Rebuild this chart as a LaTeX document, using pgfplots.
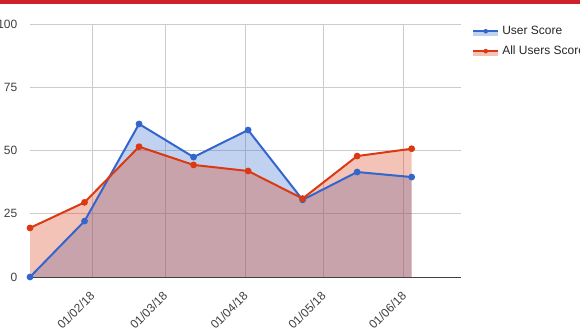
\documentclass[border=0pt]{standalone}
\usepackage{fontspec}
\setmainfont{Liberation Sans}
\usepackage{pgfplots}
\pgfplotsset{compat=1.18}
\definecolor{gblue}{HTML}{3366CC}
\definecolor{gred}{HTML}{DC3912}
\definecolor{topred}{HTML}{D0202A}
\definecolor{gridc}{HTML}{CCCCCC}
\pgfplotstableread{
x user all
7 0 19.4
28 22.1 29.5
49 60.5 51.5
70 47.4 44.3
91 58.1 41.9
112 30.5 31.0
133 41.5 47.8
154 39.5 50.7
}\scores
\begin{document}
\begin{tikzpicture}
\path[use as bounding box] (0pt,0pt) rectangle (435pt,246.75pt);
\fill[topred] (0pt,243.75pt) rectangle (435pt,246.75pt);
\begin{axis}[
 at={(22.5pt,39pt)}, anchor=south west,
 scale only axis, width=323.25pt, height=189.75pt,
 xmin=7, xmax=173, ymin=0, ymax=100,
 xtick={31,59,90,120,151},
 xticklabels={01/02/18,01/03/18,01/04/18,01/05/18,01/06/18},
 ytick={0,25,50,75,100},
 grid=major, grid style={gridc, line width=0.75pt},
 major tick length=0pt,
 axis line style={draw=none},
 tick label style={font=\fontsize{9pt}{10pt}\selectfont, text=black!75},
 xticklabel style={rotate=45, anchor=north east, xshift=-5.3pt, yshift=-2.1pt},
 yticklabel style={xshift=-6pt},
 /pgf/number format/assume math mode=true,
 legend style={at={(rel axis cs:1.0255,0.993)}, anchor=north west, draw=none, fill=none,
   font=\fontsize{9pt}{10pt}\selectfont, text=black!85, row sep=7pt, column sep=0pt, inner sep=0pt,
   nodes={inner sep=0pt}},
 legend cell align=left,
]
\addplot[draw=none, fill=gblue, fill opacity=0.3, forget plot] table[x=x, y=user] {\scores} \closedcycle;
\addplot[draw=none, fill=gred, fill opacity=0.3, forget plot] table[x=x, y=all] {\scores} \closedcycle;
\addplot[gblue, line width=1.5pt, mark=*, mark size=1.75pt, forget plot] table[x=x, y=user] {\scores};
\addplot[gred, line width=1.5pt, mark=*, mark size=1.75pt, forget plot] table[x=x, y=all] {\scores};
\addlegendimage{legend image code/.code={
  \path[draw=none, fill=gblue, fill opacity=0.3] (0pt,-3.75pt) rectangle (18.75pt,0pt);
  \path[draw=gblue, line width=1.5pt] (0pt,0pt) -- (18.75pt,0pt);
  \path[draw=none, fill=gblue] (9.375pt,0pt) circle (1.75pt);
  \path[draw=none] (0pt,0pt) -- (21.75pt,0pt);
}}
\addlegendentry{User Score}
\addlegendimage{legend image code/.code={
  \path[draw=none, fill=gred, fill opacity=0.3] (0pt,-3.75pt) rectangle (18.75pt,0pt);
  \path[draw=gred, line width=1.5pt] (0pt,0pt) -- (18.75pt,0pt);
  \path[draw=none, fill=gred] (9.375pt,0pt) circle (1.75pt);
  \path[draw=none] (0pt,0pt) -- (21.75pt,0pt);
}}
\addlegendentry{All Users Score}
\draw[black!75, line width=0.75pt] (rel axis cs:0,0) -- (rel axis cs:1,0);
\end{axis}
\end{tikzpicture}
\end{document}
